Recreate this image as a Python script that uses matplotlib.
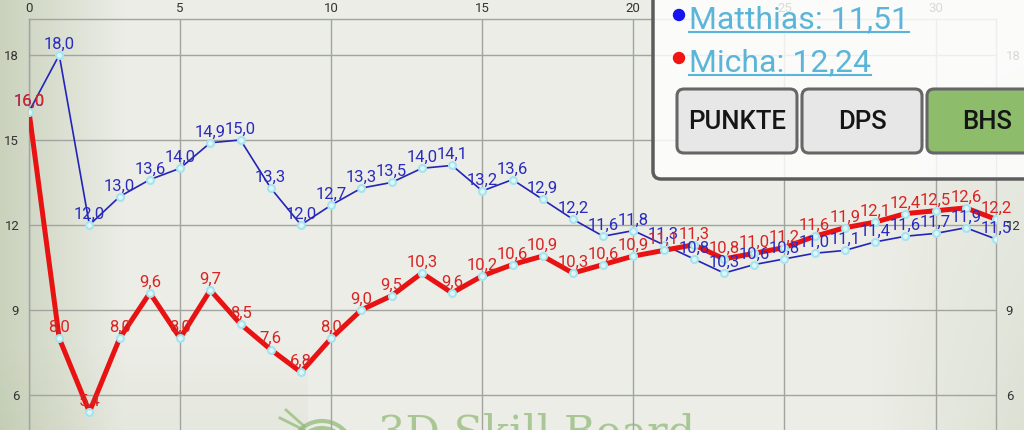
import numpy as np
import matplotlib
matplotlib.use('Agg')
import matplotlib.pyplot as plt
from matplotlib.patches import FancyBboxPatch, Circle, Arc

plt.rcParams['font.family'] = ['Roboto', 'DejaVu Sans']

# data (BHS per round)
runden = list(range(33))
matthias = [16.0, 18.0, 12.0, 13.0, 13.6, 14.0, 14.9, 15.0, 13.3, 12.0, 12.7,
            13.3, 13.5, 14.0, 14.1, 13.2, 13.6, 12.9, 12.2, 11.6, 11.8, 11.3,
            10.8, 10.3, 10.6, 10.8, 11.0, 11.1, 11.4, 11.6, 11.7, 11.9, 11.5]
micha = [16.0, 8.0, 5.4, 8.0, 9.6, 8.0, 9.7, 8.5, 7.6, 6.8, 8.0,
         9.0, 9.5, 10.3, 9.6, 10.2, 10.6, 10.9, 10.3, 10.6, 10.9, 11.1,
         11.3, 10.8, 11.0, 11.2, 11.6, 11.9, 12.1, 12.4, 12.5, 12.6, 12.2]
legend_names = ['Matthias: 11,51', 'Micha: 12,24']
buttons = ['PUNKTE', 'DPS', 'BHS']
xticks = [0, 5, 10, 15, 20, 25, 30]
yticks = [6, 9, 12, 15, 18]

W, H = 1024, 430
fig = plt.figure(figsize=(W / 100, H / 100), dpi=100)

# background (paper-like greenish grey)
bg = fig.add_axes([0, 0, 1, 1], zorder=0)
bg.axis('off')
xs = np.linspace(0, 1, 256)
ys = np.linspace(0, 1, 108)
XX, YY = np.meshgrid(xs, ys)
light = np.array([0.925, 0.930, 0.905])
green = np.array([0.76, 0.80, 0.70])
w = np.clip(1 - XX / 0.12, 0, 1) * 0.8 + np.clip((XX - 0.85) / 0.15, 0, 1) * 0.35 * YY
w = np.clip(w + 0.15 * np.clip((YY - 0.8) / 0.2, 0, 1) * (XX < 0.3), 0, 1)
img = light[None, None, :] * (1 - w[..., None]) + green[None, None, :] * w[..., None]
bg.imshow(img, extent=[0, W, H, 0], aspect='auto', origin='upper')
bg.set_xlim(0, W)
bg.set_ylim(H, 0)
# watermark logo
wm = '#8db872'
for r in [10, 17, 24, 31]:
    bg.add_patch(Arc((322, 452), 2 * r, 2 * r, theta1=95, theta2=320, color=wm, lw=3, alpha=0.7))
bg.plot([286, 304], [410, 426], color=wm, lw=2, alpha=0.7)
bg.plot([280, 304], [418, 430], color=wm, lw=2, alpha=0.7)
bg.text(378, 446, '3D Skill Board', fontsize=31, color=wm, alpha=0.7,
        family='DejaVu Serif', va='baseline', ha='left')

# chart
ax = fig.add_axes([29 / W, 0, (996 - 29) / W, (H - 19) / H], zorder=1)
ax.set_facecolor('none')
ax.set_xlim(0, 32)
ax.set_ylim(4.76, 19.27)
ax.set_xticks(xticks)
ax.set_yticks(yticks)
ax.grid(True, color='#a3a3a0', lw=1)
ax.tick_params(axis='y', length=0, labelsize=9.5, labelcolor='#333333',
               left=True, labelleft=True, right=True, labelright=True, pad=7)
ax.tick_params(axis='x', length=0, labelsize=9.5, labelcolor='#333333',
               top=True, labeltop=True, bottom=False, labelbottom=False, pad=3)
for s in ['top', 'left', 'right']:
    ax.spines[s].set_color('#a3a3a0')
    ax.spines[s].set_linewidth(1)
ax.spines['bottom'].set_visible(False)

ax.plot(runden, matthias, color='#2424b8', lw=1.2, zorder=3,
        marker='o', ms=5, mfc='#dff6f8', mec='#a4e4ee', mew=1.5)
ax.plot(runden, micha, color='#e81212', lw=3.6, zorder=4,
        marker='o', ms=5, mfc='#dff6f8', mec='#a4e4ee', mew=1.5)

for x, v in zip(runden, matthias):
    ax.annotate(f'{v:.1f}'.replace('.', ','), (x, v), xytext=(0, 4.5),
                textcoords='offset points', ha='center', va='baseline',
                fontsize=12, color='#2b2bbf', zorder=5)
for x, v in zip(runden, micha):
    ax.annotate(f'{v:.1f}'.replace('.', ','), (x, v), xytext=(0, 4.5),
                textcoords='offset points', ha='center', va='baseline',
                fontsize=12, color='#d92424', zorder=6)

# legend / button panel on top
ov = fig.add_axes([0, 0, 1, 1], zorder=2)
ov.axis('off')
ov.set_xlim(0, W)
ov.set_ylim(H, 0)
ov.add_patch(FancyBboxPatch((653, -30), 420, 209, boxstyle='round,pad=0,rounding_size=8',
                            fc='white', alpha=0.82, ec='none'))
ov.add_patch(FancyBboxPatch((653, -30), 420, 209, boxstyle='round,pad=0,rounding_size=8',
                            fc='none', ec='#5c5c5c', lw=2.5))
dot_cols = ['#1414f0', '#f01414']
base_y = [28, 71]
for name, c, by in zip(legend_names, dot_cols, base_y):
    ov.add_patch(Circle((679, by - 13), 5.5, color=c))
    t = ov.text(689, by, name, fontsize=23, color='#5ab5d8', va='baseline', ha='left')
fig.canvas.draw()
r = fig.canvas.get_renderer()
inv = ov.transData.inverted()
for txt in ov.texts:
    bb = txt.get_window_extent(r)
    (x0, _), (x1, _) = inv.transform([[bb.x0, 0], [bb.x1, 0]])
    by = txt.get_position()[1]
    ov.plot([x0, x1], [by + 4, by + 4], color='#5ab5d8', lw=1.5)

bx = [677, 802, 927]
for lab, x0 in zip(buttons, bx):
    fc = '#8dbc6b' if lab == 'BHS' else '#e7e7e7'
    ov.add_patch(FancyBboxPatch((x0, 89), 120, 64, boxstyle='round,pad=0,rounding_size=7',
                                fc=fc, ec='#666666', lw=2.2))
    ov.text(x0 + 60, 122, lab, fontsize=18.5, fontweight='medium', color='#151515',
            ha='center', va='center')

fig.savefig('out.png', dpi=100)
